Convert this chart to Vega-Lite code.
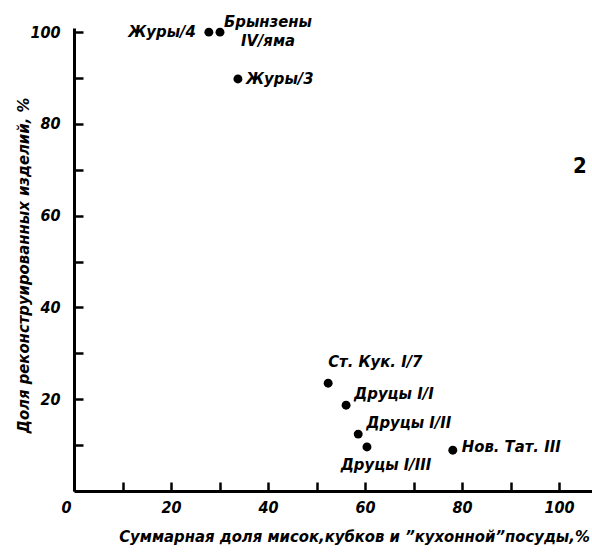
{
  "$schema": "https://vega.github.io/schema/vega-lite/v6.json",
  "width": 518,
  "height": 463,
  "autosize": "none",
  "padding": {"left": 74, "top": 28, "right": 0, "bottom": 65},
  "background": "white",
  "config": {
    "view": {"stroke": null},
    "font": "DejaVu Sans Condensed",
    "text": {"font": "DejaVu Sans Condensed", "fontStyle": "italic", "fontWeight": "bold", "fontSize": 16.5, "color": "black"}
  },
  "datasets": {
    "pts": [
      {"name": "Журы/4", "label": "Журы/4", "x": 27.8, "y": 100},
      {"name": "Брынзены IV/яма", "label": "Брынзены\nIV/яма", "x": 30.1, "y": 100},
      {"name": "Журы/3", "label": "Журы/3", "x": 33.8, "y": 89.8},
      {"name": "Ст. Кук. I/7", "label": "Ст. Кук. I/7", "x": 52.4, "y": 23.5},
      {"name": "Друцы I/1", "label": "Друцы I/I", "x": 56.1, "y": 18.7},
      {"name": "Друцы I/II", "label": "Друцы I/II", "x": 58.6, "y": 12.4},
      {"name": "Друцы I/III", "label": "Друцы I/III", "x": 60.4, "y": 9.6},
      {"name": "Нов. Тат. III", "label": "Нов. Тат. III", "x": 78.1, "y": 8.9}
    ],
    "panel": [
      {"label": "2", "x": 104.3, "y": 70.9}
    ]
  },
  "data": {"name": "pts"},
  "encoding": {
    "x": {
      "field": "x", "type": "quantitative",
      "scale": {"domain": [0, 106.8], "nice": false, "zero": true},
      "axis": {
        "values": [0, 10, 20, 30, 40, 50, 60, 70, 80, 90, 100],
        "labelExpr": "datum.value % 20 == 0 ? datum.label : ''",
        "grid": false,
        "domainColor": "black", "domainWidth": 3,
        "tickColor": "black", "tickWidth": 2.5, "tickSize": -9,
        "labelFont": "DejaVu Sans Condensed", "labelFontStyle": "italic", "labelFontWeight": "bold",
        "labelFontSize": 16, "labelColor": "black", "labelPadding": 17,
        "labelOffset": {"condition": {"test": "datum.value == 0", "value": -13}, "value": 0},
        "title": "Суммарная доля мисок,кубков и ”кухонной”посуды,%",
        "titleFont": "DejaVu Sans Condensed", "titleFontStyle": "italic", "titleFontWeight": "bold",
        "titleFontSize": 16.5, "titleColor": "black", "titlePadding": 13, "titleX": 280
      }
    },
    "y": {
      "field": "y", "type": "quantitative",
      "scale": {"domain": [0, 100.9], "nice": false, "zero": true},
      "axis": {
        "values": [10, 20, 30, 40, 50, 60, 70, 80, 90, 100],
        "labelExpr": "datum.value % 20 == 0 ? datum.label : ''",
        "grid": false,
        "domainColor": "black", "domainWidth": 3,
        "tickColor": "black", "tickWidth": 2.5, "tickSize": -9,
        "labelFont": "DejaVu Sans Condensed", "labelFontStyle": "italic", "labelFontWeight": "bold",
        "labelFontSize": 16, "labelColor": "black", "labelPadding": 23,
        "title": "Доля реконструированных изделий, %",
        "titleFont": "DejaVu Sans Condensed", "titleFontStyle": "italic", "titleFontWeight": "bold",
        "titleFontSize": 16.5, "titleColor": "black", "titlePadding": -2, "titleY": 237
      }
    }
  },
  "layer": [
    {"mark": {"type": "point", "filled": true, "color": "black", "size": 80, "opacity": 1}},
    {"transform": [{"filter": "datum.name == 'Журы/4'"}],
     "mark": {"type": "text", "align": "right", "baseline": "middle", "dx": -13},
     "encoding": {"text": {"field": "label"}}},
    {"transform": [{"filter": "datum.name == 'Брынзены IV/яма'"}],
     "mark": {"type": "text", "align": "center", "baseline": "middle", "dx": 48, "dy": -10, "lineBreak": "\n", "lineHeight": 19},
     "encoding": {"text": {"field": "label"}}},
    {"transform": [{"filter": "datum.name == 'Журы/3'"}],
     "mark": {"type": "text", "align": "left", "baseline": "middle", "dx": 8},
     "encoding": {"text": {"field": "label"}}},
    {"transform": [{"filter": "datum.name == 'Ст. Кук. I/7'"}],
     "mark": {"type": "text", "align": "left", "baseline": "middle", "dx": 0, "dy": -21},
     "encoding": {"text": {"field": "label"}}},
    {"transform": [{"filter": "datum.name == 'Друцы I/1' || datum.name == 'Друцы I/II'"}],
     "mark": {"type": "text", "align": "left", "baseline": "middle", "dx": 8, "dy": -11},
     "encoding": {"text": {"field": "label"}}},
    {"transform": [{"filter": "datum.name == 'Друцы I/III'"}],
     "mark": {"type": "text", "align": "center", "baseline": "middle", "dx": 19, "dy": 18},
     "encoding": {"text": {"field": "label"}}},
    {"transform": [{"filter": "datum.name == 'Нов. Тат. III'"}],
     "mark": {"type": "text", "align": "left", "baseline": "middle", "dx": 9, "dy": -3},
     "encoding": {"text": {"field": "label"}}},
    {"data": {"name": "panel"},
     "mark": {"type": "text", "align": "center", "baseline": "middle", "fontSize": 22, "fontStyle": "normal", "fontWeight": "bold", "font": "DejaVu Sans Condensed"},
     "encoding": {"text": {"field": "label"}}}
  ]
}
